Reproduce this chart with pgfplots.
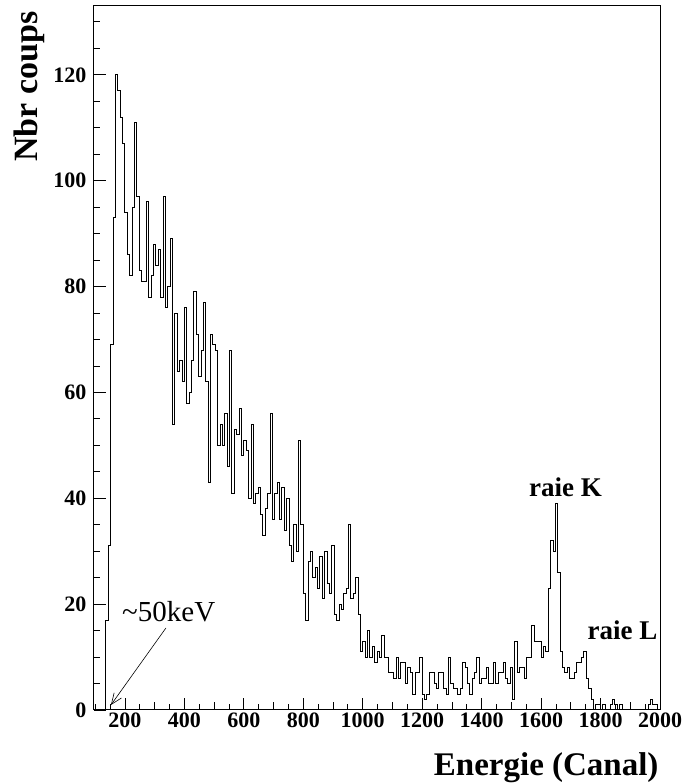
\documentclass[border=0pt]{standalone}
\usepackage{pgfplots}
\pgfplotsset{compat=1.18}
\usepackage{fontspec}
\setmainfont{Liberation Serif}
\usetikzlibrary{arrows.meta}

\begin{document}
\begin{tikzpicture}
\path[use as bounding box] (-94pt,-74pt) rectangle (589pt,710pt);
\begin{axis}[
  scale only axis, width=566pt, height=704pt,
  xmin=96, xmax=2000, ymin=0, ymax=133,
  axis line style={line width=1pt},
  xtick={200,400,...,2000}, ytick={0,20,...,120},
  minor xtick={100,150,...,1950}, minor ytick={5,10,...,130},
  extra x ticks={300,500,...,1900}, extra x tick labels={},
  extra x tick style={major tick length=8pt, xtick pos=lower},
  xtick pos=lower, ytick pos=left, tick align=inside,
  major tick length=12pt, minor tick length=6pt,
  tick style={black, line width=0.8pt},
  /pgf/number format/assume math mode=true,
  /pgf/number format/1000 sep={},
  scaled ticks=false,
  tick label style={font=\fontsize{22}{26}\selectfont\bfseries},
  xticklabel style={yshift=1pt},
  yticklabel style={xshift=-4pt},
]
\addplot[const plot, black, line width=0.9pt, mark=none] table[x=x, y=y] {
x y
128 0
136 17
144 31
152 69
160 93
168 120
176 117
184 112
192 107
200 94
208 86
216 82
224 95
232 111
240 97
248 83
256 81
264 81
272 96
280 78
288 82
296 88
304 84
312 87
320 78
328 97
336 76
344 80
352 89
360 54
368 75
376 64
384 66
392 62
400 76
408 58
416 60
424 66
432 79
440 71
448 63
456 68
464 77
472 62
480 43
488 71
496 69
504 68
512 50
520 54
528 50
536 56
544 46
552 68
560 41
568 53
576 52
584 57
592 48
600 51
608 49
616 40
624 54
632 39
640 41
648 42
656 37
664 33
672 38
680 41
688 56
696 36
704 41
712 43
720 36
728 42
736 34
744 40
752 31
760 28
768 35
776 30
784 51
792 35
800 22
808 17
816 28
824 30
832 25
840 27
848 23
856 29
864 21
872 30
880 24
888 22
896 31
904 18
912 17
920 20
928 19
936 22
944 23
952 35
960 21
968 22
976 25
984 18
992 11
1000 13
1008 10
1016 15
1024 10
1032 12
1040 9
1048 11
1056 10
1064 14
1072 10
1080 10
1088 7
1096 7
1104 6
1112 10
1120 6
1128 9
1136 9
1144 5
1152 8
1160 7
1168 3
1176 7
1184 7
1192 10
1200 3
1208 2
1216 3
1224 7
1232 7
1240 5
1248 4
1256 7
1264 7
1272 4
1280 3
1288 10
1296 5
1304 4
1312 4
1320 3
1328 4
1336 9
1344 8
1352 5
1360 3
1368 6
1376 7
1384 10
1392 5
1400 6
1408 6
1416 8
1424 5
1432 5
1440 9
1448 5
1456 7
1464 7
1472 9
1480 6
1488 5
1496 8
1504 2
1512 13
1520 7
1528 8
1536 8
1544 6
1552 10
1560 10
1568 16
1576 13
1584 13
1592 13
1600 10
1608 12
1616 11
1624 23
1632 32
1640 30
1648 39
1656 26
1664 11
1672 8
1680 7
1688 8
1696 6
1704 6
1712 7
1720 9
1728 9
1736 10
1744 11
1752 6
1760 4
1768 2
1776 0
1784 1
1792 1
1800 0
1808 1
1816 0
1824 0
1832 1
1840 2
1848 1
1856 0
1864 1
1872 0
1880 0
1888 0
1896 0
1904 0
1912 0
1920 0
1928 0
1936 0
1944 0
1952 0
1960 1
1968 2
1976 1
1984 1
1992 0
2000 0
};
\draw[-{Straight Barb[length=11pt,width=9pt]}, line width=0.6pt] (axis cs:338,15.5) -- (axis cs:153,0.95);
\end{axis}
\node[rotate=90, anchor=base east, font=\fontsize{34}{40}\selectfont\bfseries] at (-56pt,702pt) {Nbr coups};
\node[anchor=base east, font=\fontsize{33}{40}\selectfont\bfseries] at (568pt,-65pt) {Energie (Canal)};
\node[anchor=base, font=\fontsize{27}{32}\selectfont\bfseries] at (471.5pt,213pt) {raie K};
\node[anchor=base, font=\fontsize{27}{32}\selectfont\bfseries] at (528.5pt,70pt) {raie L};
\node[anchor=base west, font=\fontsize{29}{34}\selectfont, inner sep=0pt] at (28pt,88pt) {\textasciitilde50keV};
\end{tikzpicture}
\end{document}
